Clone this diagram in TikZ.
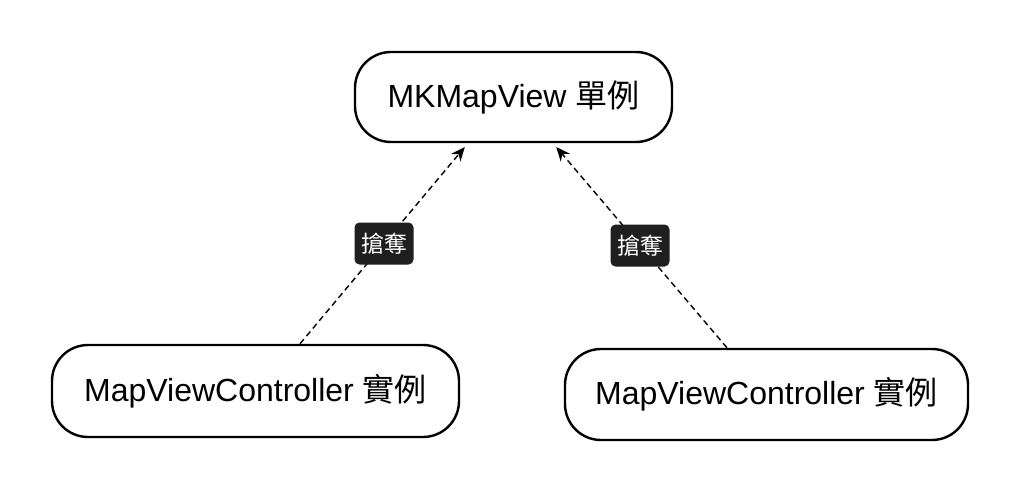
\documentclass[tikz,border=0pt]{standalone}
\usepackage{fontspec}
\setmainfont{Liberation Sans}
\newfontfamily\cjk{Noto Sans CJK TC}
\usetikzlibrary{arrows.meta}
\tikzset{
  pill/.style={draw=black, line width=2.4pt, rounded corners=36pt, fill=white,
    font=\fontsize{32}{38}\selectfont, inner sep=0pt},
  lbl/.style={fill=black!88, text=white, rounded corners=5pt, minimum width=59pt,
    minimum height=42pt, inner sep=0pt, font=\cjk\fontsize{23}{26}\selectfont},
  conn/.style={draw=black, line width=1.4pt, dash pattern=on 6pt off 4pt,
    -{Stealth[length=14pt, width=12pt]}, shorten >=5pt}
}
\begin{document}
\begin{tikzpicture}[x=1pt, y=-1pt]
\useasboundingbox[fill=white] (0,0) rectangle (1024,492);
\node[pill, minimum width=317pt, minimum height=90pt] (t) at (513.5,97) {MKMapView {\cjk 單例}};
\node[pill, minimum width=407pt, minimum height=92pt] (bl) at (255.5,391) {MapViewController {\cjk 實例}};
\node[pill, minimum width=403pt, minimum height=91pt] (br) at (766.5,394.5) {MapViewController {\cjk 實例}};
\draw[conn] (bl.north -| 300,0) -- (t.south -| 468,0) node[lbl, pos=0.5, solid] (l1) {搶奪};
\draw[conn] (br.north -| 727,0) -- (t.south -| 553,0) node[lbl, pos=0.5, solid] (l2) {搶奪};
\end{tikzpicture}
\end{document}
